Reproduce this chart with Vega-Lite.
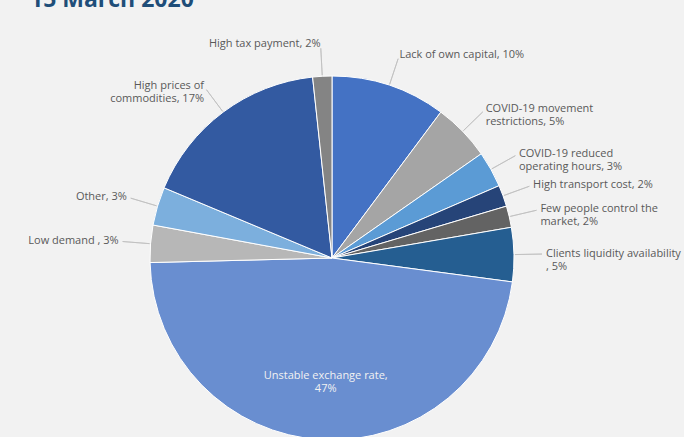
{
  "$schema": "https://vega.github.io/schema/vega-lite/v6.json",
  "autosize": {"type": "none"},
  "padding": {"left": 0, "top": 0, "right": 20, "bottom": 0},
  "width": 664,
  "height": 516,
  "background": "#f2f2f2",
  "config": {"view": {"stroke": null}},
  "title": {"text": "15 March 2020", "anchor": "start", "frame": "group", "font": "Open Sans", "fontSize": 23, "fontWeight": "bold", "color": "#1F4E79", "baseline": "alphabetic", "offset": 0, "dx": 30, "dy": 30},
  "data": {"values": [
    {"rank": 1, "cause": "Lack of own capital", "value": 10.2, "label": "Lack of own capital, 10%"},
    {"rank": 2, "cause": "COVID-19 movement restrictions", "value": 5.1, "label": "COVID-19 movement\nrestrictions, 5%"},
    {"rank": 3, "cause": "COVID-19 reduced operating hours", "value": 3.2, "label": "COVID-19 reduced\noperating hours, 3%"},
    {"rank": 4, "cause": "High transport cost", "value": 1.9, "label": "High transport cost, 2%"},
    {"rank": 5, "cause": "Few people control the market", "value": 1.9, "label": "Few people control the\nmarket, 2%"},
    {"rank": 6, "cause": "Clients liquidity availability", "value": 4.8, "label": "Clients liquidity availability\n, 5%"},
    {"rank": 7, "cause": "Unstable exchange rate", "value": 47.5, "label": "Unstable exchange rate,\n47%"},
    {"rank": 8, "cause": "Low demand", "value": 3.3, "label": "Low demand , 3%"},
    {"rank": 9, "cause": "Other", "value": 3.4, "label": "Other, 3%"},
    {"rank": 10, "cause": "High prices of commodities", "value": 17.0, "label": "High prices of\ncommodities, 17%"},
    {"rank": 11, "cause": "High tax payment", "value": 1.7, "label": "High tax payment, 2%"}
  ]},
  "encoding": {
    "theta": {"field": "value", "type": "quantitative", "stack": true},
    "order": {"field": "rank", "type": "quantitative"},
    "detail": {"field": "cause", "type": "nominal"}
  },
  "layer": [
    {
      "mark": {"type": "arc", "outerRadius": 182, "stroke": "#ffffff", "strokeWidth": 1},
      "encoding": {
        "color": {"field": "cause", "type": "nominal", "legend": null,
          "scale": {
            "domain": ["Lack of own capital", "COVID-19 movement restrictions", "COVID-19 reduced operating hours", "High transport cost", "Few people control the market", "Clients liquidity availability", "Unstable exchange rate", "Low demand", "Other", "High prices of commodities", "High tax payment"],
            "range": ["#4472C4", "#A5A5A5", "#5B9BD5", "#264478", "#636363", "#255E91", "#698ED0", "#B7B7B7", "#7CAFDD", "#335AA1", "#848484"]
          }}
      }
    },
    {
      "mark": {"type": "arc", "innerRadius": 183, "outerRadius": 210, "padAngle": 3.14, "fill": null, "strokeWidth": 0.8},
      "encoding": {
        "stroke": {"condition": {"test": "datum.rank == 7", "value": "transparent"}, "value": "#BFBFBF"}
      }
    },
    {
      "mark": {"type": "text", "radius": 214, "align": "left", "baseline": "middle", "lineBreak": "\n", "font": "Open Sans", "fontSize": 11, "fill": "#595959"},
      "encoding": {
        "text": {"condition": {"test": "datum.rank <= 6", "field": "label"}, "value": ""}
      }
    },
    {
      "mark": {"type": "text", "radius": 214, "align": "right", "baseline": "middle", "lineBreak": "\n", "font": "Open Sans", "fontSize": 11, "fill": "#595959"},
      "encoding": {
        "text": {"condition": {"test": "datum.rank >= 8", "field": "label"}, "value": ""}
      }
    },
    {
      "mark": {"type": "text", "radius": 118, "align": "center", "baseline": "middle", "lineBreak": "\n", "font": "Open Sans", "fontSize": 11, "fill": "#F2F2F2"},
      "encoding": {
        "text": {"condition": {"test": "datum.rank == 7", "field": "label"}, "value": ""}
      }
    }
  ]
}
